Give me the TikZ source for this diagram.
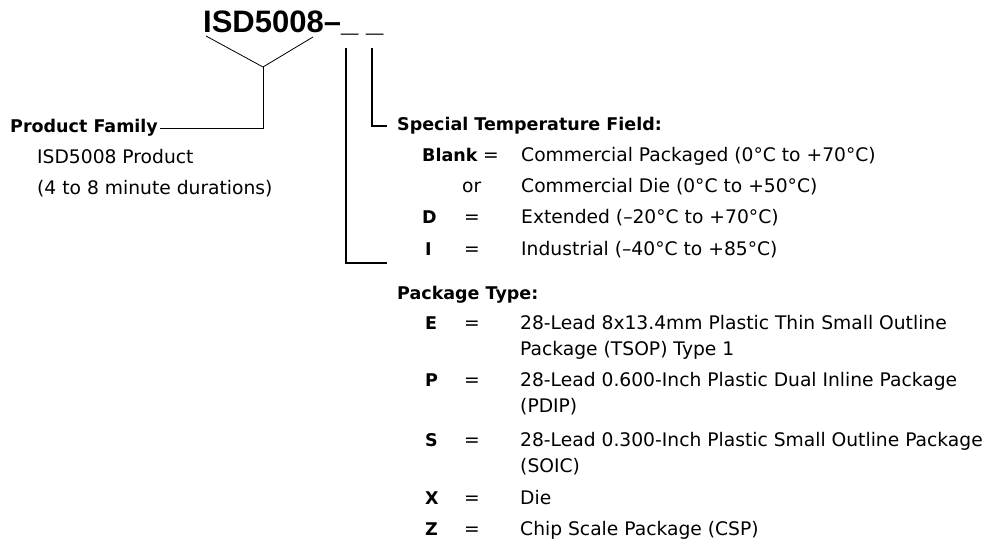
\documentclass[tikz,border=0pt]{standalone}
\usepackage{fontspec}
\setmainfont{DejaVu Sans}
\newfontfamily\titlefont{Liberation Sans}

\begin{document}
\begin{tikzpicture}[
        x=1pt, y=-1pt,
        every node/.style={inner sep=0pt, anchor=base west, font=\fontsize{18.7}{26}\selectfont},
        key/.style={font=\fontsize{17.5}{26}\selectfont\bfseries},
        head/.style={font=\fontsize{17.5}{26}\selectfont\bfseries},
        partno/.style={font=\titlefont\fontsize{31}{31}\selectfont\bfseries},
        thinline/.style={line width=0.8pt},
        bracket/.style={line width=2pt}
    ]

    \useasboundingbox (0,0) rectangle (990,545);

    % part number
    \node[partno] (title) at (203,33) {ISD5008–};
    \node[partno] (u1) at (341,32) {\_};
    \node[partno] (u2) at (366,32) {\_};

    % product family
    \coordinate (fam) at (263,67);
    \node[head] (pf) at (10,133) {Product Family};
    \node (pf1) at (37,164) {ISD5008 Product};
    \node (pf2) at (37,195) {(4 to 8 minute durations)};
    \draw[thinline] ([shift={(3,3)}]title.base west) -- (fam) -- ([shift={(110,4)}]title.base west);
    \draw[thinline] (fam) |- ([xshift=2pt]pf.east);

    % temperature field
    \node[head] (tmp) at (397,131) {Special Temperature Field:};
    \node[key] (tb) at (422,162) {Blank};
    \node (tbeq) at (483,162) {=};
    \node (tbd) at (521,162) {Commercial Packaged (0°C to +70°C)};
    \node (tor) at (462,193) {or};
    \node (tord) at (521,193) {Commercial Die (0°C to +50°C)};
    \node[key] (td) at (422,224) {D};
    \node (tdeq) at (464,224) {=};
    \node (tdd) at (521,224) {Extended (–20°C to +70°C)};
    \node[key] (ti) at (425,255) {I};
    \node (tieq) at (464,255) {=};
    \node (tid) at (521,255) {Industrial (–40°C to +85°C)};
    \draw[bracket] ([shift={(6,16)}]u2.base west) |- ([xshift=-10pt]tmp.west);

    % package type
    \node[head] (pkg) at (397,299) {Package Type:};
    \coordinate (pkgend) at (387,263);
    \draw[bracket] ([shift={(5,16)}]u1.base west) |- (pkgend);
    \foreach \y/\k/\la/\lb in {329/E/28-Lead 8x13.4mm Plastic Thin Small Outline/Package (TSOP) Type 1,
                               386/P/28-Lead 0.600-Inch Plastic Dual Inline Package/(PDIP),
                               446/S/28-Lead 0.300-Inch Plastic Small Outline Package/(SOIC),
                               504/X/Die/,
                               535/Z/Chip Scale Package (CSP)/} {
        \node[key] (pk\k) at (425,\y) {\k};
        \node (pkeq\k) at (464,\y) {=};
        \node (pkd\k) at (520,\y) {\la};
        \node (pke\k) at (520,\y+26) {\lb};
    }

\end{tikzpicture}
\end{document}
